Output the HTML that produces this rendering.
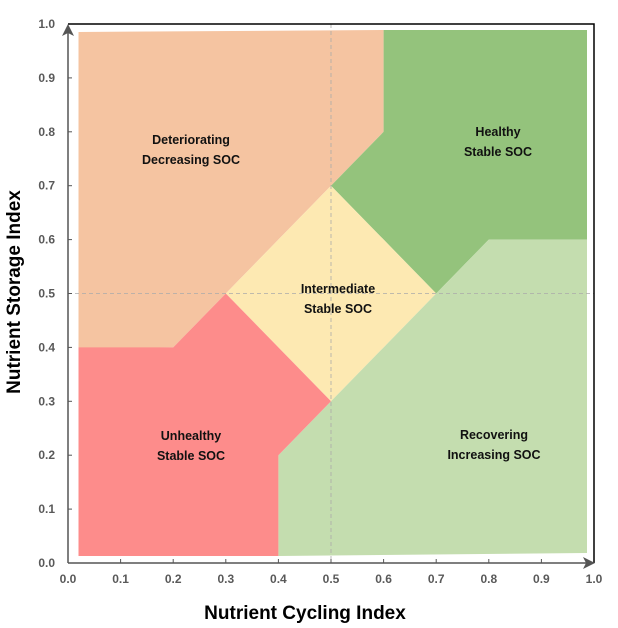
<!DOCTYPE html>
<html><head><style>body{margin:0;background:#fff}svg{display:block}</style></head><body>
<svg width="618" height="628" viewBox="0 0 618 628" xmlns="http://www.w3.org/2000/svg" font-family="Liberation Sans, sans-serif">
<polygon fill="#f5c4a1" points="78.5,32 383.6,30 383.6,131.8 331,185.7 225.8,293.5 173.2,347.4 78.5,348"/>
<polygon fill="#94c37c" points="383.6,30 587,30 587,239.6 488.8,239.6 436.2,293.5 331,185.7 383.6,131.8"/>
<polygon fill="#fde9b2" points="331,185.7 436.2,293.5 331,401.3 225.8,293.5"/>
<polygon fill="#c4ddaf" points="436.2,293.5 488.8,239.6 587,239.6 587,553 278.4,556 278.4,455.2 331,401.3"/>
<polygon fill="#fd8c8b" points="78.5,347.4 173.2,347.4 225.8,293.5 331,401.3 278.4,455.2 278.4,556 78.5,556"/>
<g stroke="#aaa" stroke-dasharray="4,3" stroke-width="0.8">
<line x1="331" y1="24" x2="331" y2="563"/><line x1="68" y1="293.5" x2="594" y2="293.5"/>
</g>
<path d="M68,24 H594 V563" fill="none" stroke="#000" stroke-width="1.5"/>
<g stroke="#555" stroke-width="1.5" fill="none">
<line x1="68" y1="563" x2="588" y2="563"/><line x1="68" y1="563" x2="68" y2="30"/>
</g>
<g fill="#555">
<path d="M583,557 L595,563 L583,569 L586,563 Z"/><path d="M62,36 L68,24 L74,36 L68,33 Z"/>
</g>
<g stroke="#555" stroke-width="1">
<line x1="120.6" y1="563" x2="120.6" y2="559"/><line x1="173.2" y1="563" x2="173.2" y2="559"/><line x1="225.8" y1="563" x2="225.8" y2="559"/><line x1="278.4" y1="563" x2="278.4" y2="559"/><line x1="331" y1="563" x2="331" y2="559"/><line x1="383.6" y1="563" x2="383.6" y2="559"/><line x1="436.2" y1="563" x2="436.2" y2="559"/><line x1="488.8" y1="563" x2="488.8" y2="559"/><line x1="541.4" y1="563" x2="541.4" y2="559"/>
<line x1="68" y1="509.1" x2="72" y2="509.1"/><line x1="68" y1="455.2" x2="72" y2="455.2"/><line x1="68" y1="401.3" x2="72" y2="401.3"/><line x1="68" y1="347.4" x2="72" y2="347.4"/><line x1="68" y1="293.5" x2="72" y2="293.5"/><line x1="68" y1="239.6" x2="72" y2="239.6"/><line x1="68" y1="185.7" x2="72" y2="185.7"/><line x1="68" y1="131.8" x2="72" y2="131.8"/><line x1="68" y1="77.9" x2="72" y2="77.9"/>
</g>
<g fill="#595959" font-size="12" font-weight="bold" text-anchor="middle">
<text x="68" y="583">0.0</text><text x="120.6" y="583">0.1</text><text x="173.2" y="583">0.2</text><text x="225.8" y="583">0.3</text><text x="278.4" y="583">0.4</text><text x="331" y="583">0.5</text><text x="383.6" y="583">0.6</text><text x="436.2" y="583">0.7</text><text x="488.8" y="583">0.8</text><text x="541.4" y="583">0.9</text><text x="594" y="583">1.0</text>
</g>
<g fill="#595959" font-size="12" font-weight="bold" text-anchor="end">
<text x="55" y="567">0.0</text><text x="55" y="513.1">0.1</text><text x="55" y="459.2">0.2</text><text x="55" y="405.3">0.3</text><text x="55" y="351.4">0.4</text><text x="55" y="297.5">0.5</text><text x="55" y="243.6">0.6</text><text x="55" y="189.7">0.7</text><text x="55" y="135.8">0.8</text><text x="55" y="81.9">0.9</text><text x="55" y="28">1.0</text>
</g>
<g font-size="12.5" font-weight="bold" text-anchor="middle" fill="#111">
<text x="191" y="144">Deteriorating</text><text x="191" y="164">Decreasing SOC</text>
<text x="498" y="136">Healthy</text><text x="498" y="156">Stable SOC</text>
<text x="338" y="293">Intermediate</text><text x="338" y="313">Stable SOC</text>
<text x="191" y="440">Unhealthy</text><text x="191" y="460">Stable SOC</text>
<text x="494" y="439">Recovering</text><text x="494" y="459">Increasing SOC</text>
</g>
<text x="305" y="619" font-size="19" font-weight="bold" text-anchor="middle">Nutrient Cycling Index</text>
<text transform="translate(20,292) rotate(-90)" font-size="19" font-weight="bold" text-anchor="middle">Nutrient Storage Index</text>
</svg>
</body></html>
